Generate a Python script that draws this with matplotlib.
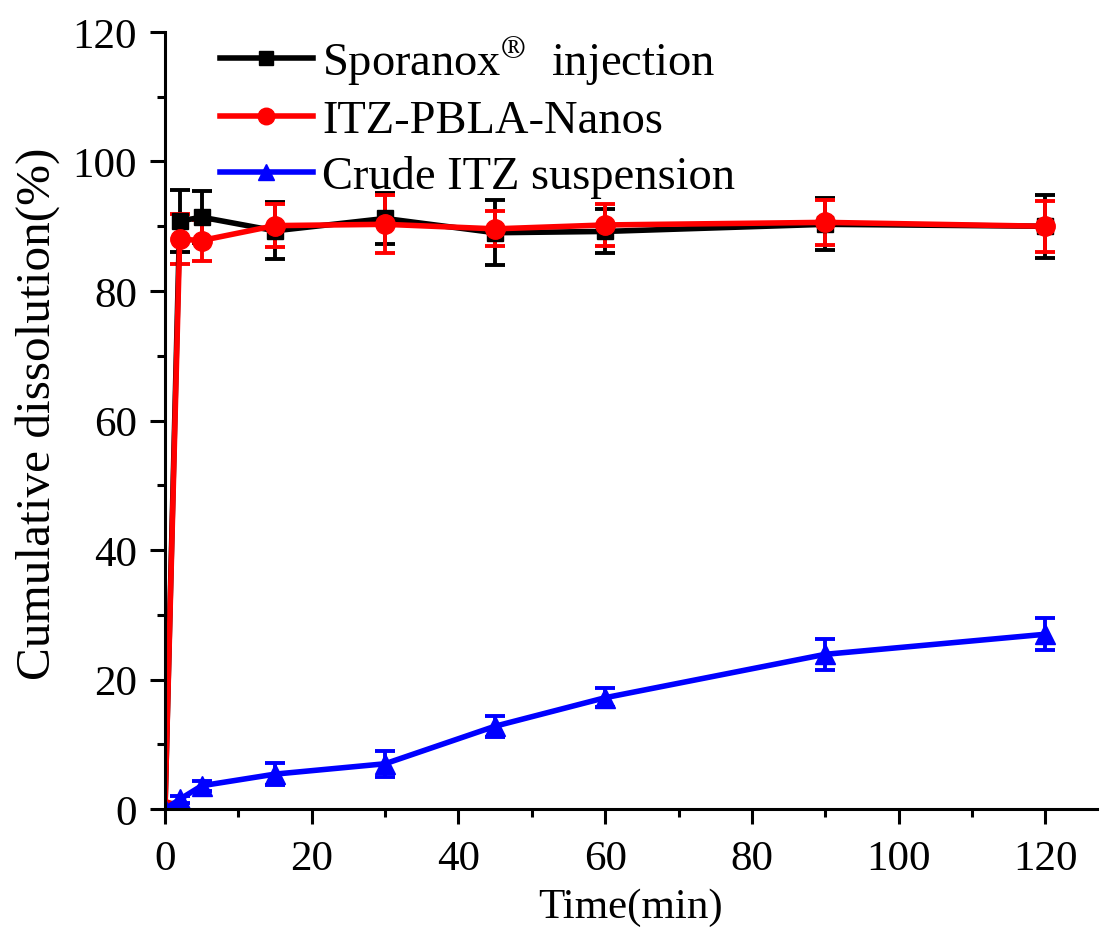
import matplotlib
matplotlib.use("Agg")
import matplotlib.pyplot as plt
from matplotlib.ticker import MultipleLocator
from matplotlib.lines import Line2D

plt.rcParams['font.family'] = ['Liberation Serif', 'DejaVu Serif']
plt.rcParams['mathtext.fontset'] = 'stix'

time = [0, 2, 5, 15, 30, 45, 60, 90, 120]
spor = [0, 90.8, 91.4, 89.3, 91.2, 89.0, 89.2, 90.3, 90.0]
spor_err = [0, 4.8, 4.0, 4.4, 3.9, 5.0, 3.4, 4.0, 4.9]
nanos = [0, 88.0, 87.8, 90.1, 90.3, 89.6, 90.2, 90.6, 90.0]
nanos_err = [0, 3.9, 3.1, 3.3, 4.5, 2.7, 3.3, 3.5, 3.9]
crude = [0, 1.5, 3.6, 5.4, 7.0, 12.8, 17.2, 23.9, 27.0]
crude_err = [0, 0.5, 0.8, 1.7, 2.0, 1.6, 1.5, 2.4, 2.5]

labels = [r'Sporanox$^{\circledR}$  injection', 'ITZ-PBLA-Nanos', 'Crude ITZ suspension']
colors = ['black', 'red', 'blue']
markers = ['s', 'o', '^']
msizes = [12, 14, 14]

fig = plt.figure(figsize=(11, 9.29), dpi=100)
ax = fig.add_axes([0.15, 0.128, 0.847, 0.8365])

series = [(spor, spor_err), (nanos, nanos_err), (crude, crude_err)]
for (vals, errs), c, m, ms in zip(series, colors, markers, msizes):
    ax.errorbar(time, vals, yerr=errs, color=c, marker=m, markersize=ms,
                linewidth=4, elinewidth=2.8, capsize=7, capthick=2.8)

ax.set_xlim(0, 127)
ax.set_ylim(0, 120)
ax.xaxis.set_major_locator(MultipleLocator(20))
ax.xaxis.set_minor_locator(MultipleLocator(10))
ax.yaxis.set_major_locator(MultipleLocator(20))
ax.yaxis.set_minor_locator(MultipleLocator(10))
for s in ['top', 'right']:
    ax.spines[s].set_visible(False)
for s in ['left', 'bottom']:
    ax.spines[s].set_linewidth(2.2)
ax.tick_params(which='major', direction='out', length=11, width=2.2, labelsize=31)
ax.tick_params(axis='x', which='major', pad=11)
ax.tick_params(axis='y', which='major', pad=9)
ax.tick_params(which='minor', direction='out', length=5.5, width=2.2)

ax.set_xlabel('Time(min)', fontsize=31, labelpad=7)
ax.set_ylabel('Cumulative dissolution(%)', fontsize=35.5)
ax.yaxis.set_label_coords(-0.113, 0.51)

handles = [Line2D([], [], color=c, marker=m, markersize=ms * 0.85, linewidth=4)
           for c, m, ms in zip(colors, markers, msizes)]
ax.legend(handles, labels, loc='upper left', bbox_to_anchor=(0.014, 1.052), frameon=False,
          fontsize=33.5, handlelength=2.0, handletextpad=0.2, labelspacing=0.28)

fig.savefig('out.png', dpi=100)
